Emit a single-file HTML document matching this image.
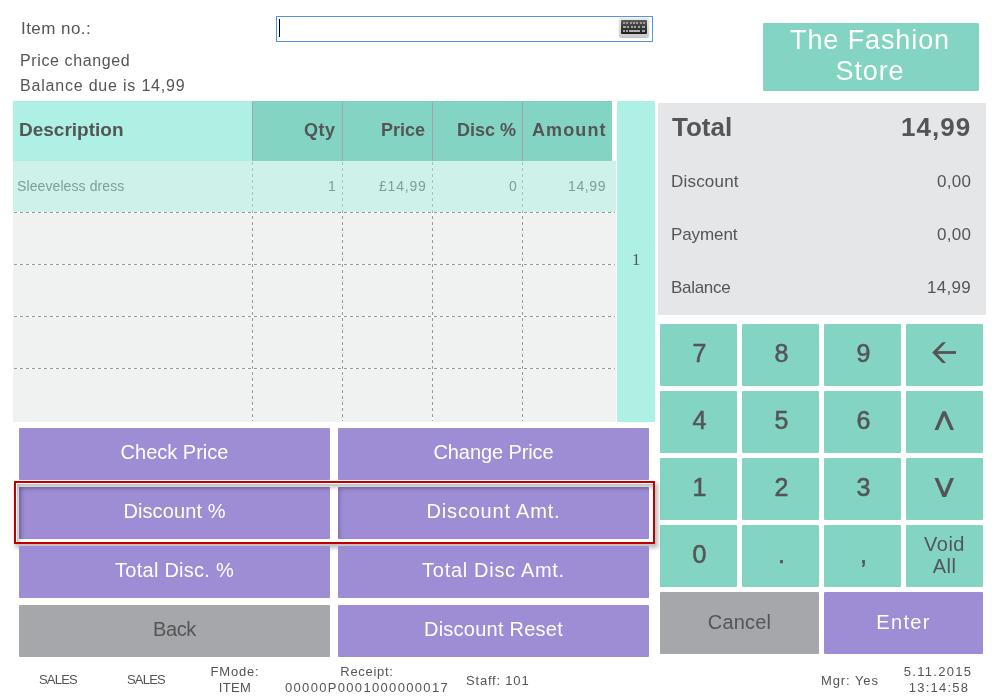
<!DOCTYPE html>
<html><head><meta charset="utf-8"><style>
html,body{margin:0;padding:0;background:#fff;}
body{width:1001px;height:699px;position:relative;overflow:hidden;font-family:"Liberation Sans",sans-serif;}
.t{position:absolute;white-space:nowrap;will-change:transform;}
.r{position:absolute;}
</style></head><body>
<div class="t" style="left:21px;top:20.01px;font-size:17px;line-height:17px;color:#555557;font-weight:400;letter-spacing:0.45px;font-family:'Liberation Sans', sans-serif;">Item no.:</div>
<div class="r" style="left:276px;top:16px;width:377px;height:26px;background:#fff;border:1px solid #5096e0;box-sizing:border-box;"></div>
<div class="r" style="left:279px;top:19px;width:1px;height:18px;background:#000;"></div>
<div class="r" style="left:619px;top:18px;width:30px;height:20px;background:linear-gradient(#ece9e4,#d6d6d6 70%,#c4c4c4);border-radius:3px;box-shadow:0 0 1px rgba(0,0,0,.35);"></div>
<div class="r" style="left:621px;top:20px;width:26px;height:14px;background:linear-gradient(#5a5a5a,#1e1e1e);border-radius:1px;"></div>
<div class="r" style="left:623.0px;top:22px;width:2px;height:2px;background:#9c9c9c;"></div>
<div class="r" style="left:626.3px;top:22px;width:2px;height:2px;background:#9c9c9c;"></div>
<div class="r" style="left:629.6px;top:22px;width:2px;height:2px;background:#9c9c9c;"></div>
<div class="r" style="left:632.9px;top:22px;width:2px;height:2px;background:#9c9c9c;"></div>
<div class="r" style="left:636.2px;top:22px;width:2px;height:2px;background:#9c9c9c;"></div>
<div class="r" style="left:639.5px;top:22px;width:2px;height:2px;background:#9c9c9c;"></div>
<div class="r" style="left:642.8px;top:22px;width:2px;height:2px;background:#9c9c9c;"></div>
<div class="r" style="left:623px;top:26px;width:3px;height:2px;background:#a4a4a4;"></div>
<div class="r" style="left:626.8px;top:26px;width:2px;height:2px;background:#a4a4a4;"></div>
<div class="r" style="left:630.6px;top:26px;width:2px;height:2px;background:#a4a4a4;"></div>
<div class="r" style="left:634.4px;top:26px;width:2px;height:2px;background:#a4a4a4;"></div>
<div class="r" style="left:638.2px;top:26px;width:2px;height:2px;background:#a4a4a4;"></div>
<div class="r" style="left:642.0px;top:26px;width:3px;height:2px;background:#a4a4a4;"></div>
<div class="r" style="left:623px;top:30px;width:2px;height:2px;background:#a4a4a4;"></div>
<div class="r" style="left:626px;top:30px;width:2px;height:2px;background:#a4a4a4;"></div>
<div class="r" style="left:629px;top:30px;width:11px;height:2px;background:#b0b0b0;"></div>
<div class="r" style="left:642px;top:30px;width:3px;height:2px;background:#a4a4a4;"></div>
<div class="t" style="left:19.9px;top:53.06px;font-size:16px;line-height:16px;color:#555557;font-weight:400;letter-spacing:0.62px;font-family:'Liberation Sans', sans-serif;">Price changed</div>
<div class="t" style="left:19.9px;top:77.86px;font-size:16px;line-height:16px;color:#555557;font-weight:400;letter-spacing:0.8px;font-family:'Liberation Sans', sans-serif;">Balance due is 14,99</div>
<div class="r" style="left:763px;top:23px;width:216px;height:68px;background:#84d4c4;border-radius:1px;"></div>
<div class="t" style="left:762.0px;width:216px;text-align:center;top:26.54px;font-size:27px;line-height:27px;color:#fff;font-weight:400;letter-spacing:0.9px;font-family:'Liberation Sans', sans-serif;">The Fashion</div>
<div class="t" style="left:762.0px;width:216px;text-align:center;top:57.64px;font-size:27px;line-height:27px;color:#fff;font-weight:400;letter-spacing:0.9px;font-family:'Liberation Sans', sans-serif;">Store</div>
<div class="r" style="left:13px;top:101px;width:239px;height:60px;background:#aef0e3;"></div>
<div class="r" style="left:252px;top:101px;width:360px;height:60px;background:#84d4c4;"></div>
<div class="r" style="left:13px;top:101px;width:239px;height:1px;background:#a4ebde;"></div>
<div class="r" style="left:253px;top:101px;width:359px;height:1px;background:#7bcfbf;"></div>
<div class="r" style="left:252px;top:102px;width:1px;height:59px;background:#a6a4a8;"></div>
<div class="r" style="left:342px;top:102px;width:1px;height:59px;background:#a6a4a8;"></div>
<div class="r" style="left:432px;top:102px;width:1px;height:59px;background:#a6a4a8;"></div>
<div class="r" style="left:522px;top:102px;width:1px;height:59px;background:#a6a4a8;"></div>
<div class="t" style="left:19px;top:119.92px;font-size:19px;line-height:19px;color:#555557;font-weight:700;letter-spacing:0px;font-family:'Liberation Sans', sans-serif;">Description</div>
<div class="t" style="right:665px;top:120.76px;font-size:18px;line-height:18px;color:#555557;font-weight:700;letter-spacing:0.5px;font-family:'Liberation Sans', sans-serif;">Qty</div>
<div class="t" style="right:575.5px;top:120.76px;font-size:18px;line-height:18px;color:#555557;font-weight:700;letter-spacing:0px;font-family:'Liberation Sans', sans-serif;">Price</div>
<div class="t" style="right:484.5px;top:120.76px;font-size:18px;line-height:18px;color:#555557;font-weight:700;letter-spacing:0px;font-family:'Liberation Sans', sans-serif;">Disc %</div>
<div class="t" style="right:394px;top:120.76px;font-size:18px;line-height:18px;color:#555557;font-weight:700;letter-spacing:1.1px;font-family:'Liberation Sans', sans-serif;">Amount</div>
<div class="r" style="left:13px;top:161px;width:603px;height:261px;background:#fff;"></div>
<div class="r" style="left:13px;top:161px;width:603px;height:51px;background:#eff2f0;"></div>
<div class="r" style="left:13px;top:213px;width:603px;height:51px;background:#eff2f0;"></div>
<div class="r" style="left:13px;top:265px;width:603px;height:51px;background:#eff2f0;"></div>
<div class="r" style="left:13px;top:317px;width:603px;height:51px;background:#eff2f0;"></div>
<div class="r" style="left:13px;top:369px;width:603px;height:53px;background:#eff2f0;"></div>
<div class="r" style="left:14px;top:212px;width:601px;height:1px;background:repeating-linear-gradient(to right,#999 0 3px,transparent 3px 6px);"></div>
<div class="r" style="left:14px;top:264px;width:601px;height:1px;background:repeating-linear-gradient(to right,#999 0 3px,transparent 3px 6px);"></div>
<div class="r" style="left:14px;top:316px;width:601px;height:1px;background:repeating-linear-gradient(to right,#999 0 3px,transparent 3px 6px);"></div>
<div class="r" style="left:14px;top:368px;width:601px;height:1px;background:repeating-linear-gradient(to right,#999 0 3px,transparent 3px 6px);"></div>
<div class="r" style="left:252px;top:161px;width:1px;height:261px;background:#fff;"></div>
<div class="r" style="left:252px;top:162px;width:1px;height:259px;background:repeating-linear-gradient(to bottom,#999 0 3px,transparent 3px 6px);"></div>
<div class="r" style="left:342px;top:161px;width:1px;height:261px;background:#fff;"></div>
<div class="r" style="left:342px;top:162px;width:1px;height:259px;background:repeating-linear-gradient(to bottom,#999 0 3px,transparent 3px 6px);"></div>
<div class="r" style="left:432px;top:161px;width:1px;height:261px;background:#fff;"></div>
<div class="r" style="left:432px;top:162px;width:1px;height:259px;background:repeating-linear-gradient(to bottom,#999 0 3px,transparent 3px 6px);"></div>
<div class="r" style="left:522px;top:161px;width:1px;height:261px;background:#fff;"></div>
<div class="r" style="left:522px;top:162px;width:1px;height:259px;background:repeating-linear-gradient(to bottom,#999 0 3px,transparent 3px 6px);"></div>
<div class="r" style="left:13px;top:161px;width:603px;height:51px;background:rgba(174,240,227,0.5);"></div>
<div class="t" style="left:17.0px;top:179.35px;font-size:14px;line-height:14px;color:#7d9f97;font-weight:400;letter-spacing:0.1px;font-family:'Liberation Sans', sans-serif;">Sleeveless dress</div>
<div class="t" style="right:665px;top:179.35px;font-size:14px;line-height:14px;color:#7d9f97;font-weight:400;letter-spacing:0px;font-family:'Liberation Sans', sans-serif;">1</div>
<div class="t" style="right:574px;top:179.35px;font-size:14px;line-height:14px;color:#7d9f97;font-weight:400;letter-spacing:0.8px;font-family:'Liberation Sans', sans-serif;">£14,99</div>
<div class="t" style="right:484.5px;top:179.35px;font-size:14px;line-height:14px;color:#7d9f97;font-weight:400;letter-spacing:0px;font-family:'Liberation Sans', sans-serif;">0</div>
<div class="t" style="right:394.5px;top:179.35px;font-size:14px;line-height:14px;color:#7d9f97;font-weight:400;letter-spacing:0.6px;font-family:'Liberation Sans', sans-serif;">14,99</div>
<div class="r" style="left:617px;top:101px;width:38px;height:321px;background:#aef0e3;border-radius:1px;"></div>
<div class="t" style="left:617.0px;width:38px;text-align:center;top:251.93px;font-size:16.5px;line-height:16.5px;color:#555557;font-weight:400;letter-spacing:0px;font-family:'Liberation Serif', serif;">1</div>
<div class="r" style="left:658px;top:103px;width:328px;height:212px;background:#e5e6e8;"></div>
<div class="t" style="left:672px;top:113.99px;font-size:26px;line-height:26px;color:#555557;font-weight:700;letter-spacing:0px;font-family:'Liberation Sans', sans-serif;">Total</div>
<div class="t" style="right:29.5px;top:113.99px;font-size:26px;line-height:26px;color:#555557;font-weight:700;letter-spacing:1.05px;font-family:'Liberation Sans', sans-serif;">14,99</div>
<div class="t" style="left:671.2px;top:173.11px;font-size:17px;line-height:17px;color:#555557;font-weight:400;letter-spacing:0.2px;font-family:'Liberation Sans', sans-serif;">Discount</div>
<div class="t" style="right:29.5px;top:173.11px;font-size:17px;line-height:17px;color:#555557;font-weight:400;letter-spacing:0.3px;font-family:'Liberation Sans', sans-serif;">0,00</div>
<div class="t" style="left:671.2px;top:225.81px;font-size:17px;line-height:17px;color:#555557;font-weight:400;letter-spacing:-0.1px;font-family:'Liberation Sans', sans-serif;">Payment</div>
<div class="t" style="right:29.5px;top:225.81px;font-size:17px;line-height:17px;color:#555557;font-weight:400;letter-spacing:0.3px;font-family:'Liberation Sans', sans-serif;">0,00</div>
<div class="t" style="left:671.2px;top:279.11px;font-size:17px;line-height:17px;color:#555557;font-weight:400;letter-spacing:-0.3px;font-family:'Liberation Sans', sans-serif;">Balance</div>
<div class="t" style="right:29.5px;top:279.11px;font-size:17px;line-height:17px;color:#555557;font-weight:400;letter-spacing:0.3px;font-family:'Liberation Sans', sans-serif;">14,99</div>
<div class="r" style="left:660px;top:324px;width:77px;height:62px;background:#84d4c4;border-radius:1px;"></div>
<div class="t" style="left:660.7px;width:77px;text-align:center;top:340.84px;font-size:25px;line-height:25px;color:#555557;font-weight:400;letter-spacing:0px;font-family:'Liberation Sans', sans-serif;-webkit-text-stroke:0.55px #555557;">7</div>
<div class="r" style="left:742px;top:324px;width:77px;height:62px;background:#84d4c4;border-radius:1px;"></div>
<div class="t" style="left:742.7px;width:77px;text-align:center;top:340.84px;font-size:25px;line-height:25px;color:#555557;font-weight:400;letter-spacing:0px;font-family:'Liberation Sans', sans-serif;-webkit-text-stroke:0.55px #555557;">8</div>
<div class="r" style="left:824px;top:324px;width:77px;height:62px;background:#84d4c4;border-radius:1px;"></div>
<div class="t" style="left:824.7px;width:77px;text-align:center;top:340.84px;font-size:25px;line-height:25px;color:#555557;font-weight:400;letter-spacing:0px;font-family:'Liberation Sans', sans-serif;-webkit-text-stroke:0.55px #555557;">9</div>
<div class="r" style="left:906px;top:324px;width:77px;height:62px;background:#84d4c4;border-radius:1px;"></div>
<svg class="r" style="left:0;top:0" width="1001" height="699"><path d="M946 342.2L942.4 342.2L932.2 352.5L942.4 362.9L946 362.9L936.3 352.5Z" fill="#555557"/><rect x="935" y="351.1" width="21" height="2.8" fill="#555557"/></svg>
<div class="r" style="left:660px;top:391px;width:77px;height:62px;background:#84d4c4;border-radius:1px;"></div>
<div class="t" style="left:660.7px;width:77px;text-align:center;top:407.84px;font-size:25px;line-height:25px;color:#555557;font-weight:400;letter-spacing:0px;font-family:'Liberation Sans', sans-serif;-webkit-text-stroke:0.55px #555557;">4</div>
<div class="r" style="left:742px;top:391px;width:77px;height:62px;background:#84d4c4;border-radius:1px;"></div>
<div class="t" style="left:742.7px;width:77px;text-align:center;top:407.84px;font-size:25px;line-height:25px;color:#555557;font-weight:400;letter-spacing:0px;font-family:'Liberation Sans', sans-serif;-webkit-text-stroke:0.55px #555557;">5</div>
<div class="r" style="left:824px;top:391px;width:77px;height:62px;background:#84d4c4;border-radius:1px;"></div>
<div class="t" style="left:824.7px;width:77px;text-align:center;top:407.84px;font-size:25px;line-height:25px;color:#555557;font-weight:400;letter-spacing:0px;font-family:'Liberation Sans', sans-serif;-webkit-text-stroke:0.55px #555557;">6</div>
<div class="r" style="left:906px;top:391px;width:77px;height:62px;background:#84d4c4;border-radius:1px;"></div>
<svg class="r" style="left:0;top:0" width="1001" height="699"><path d="M934.5 430L942.5 411.3L945.8 411.3L954 430L950.4 430L944.2 415.9L938.2 430Z" fill="#555557"/></svg>
<div class="r" style="left:660px;top:458px;width:77px;height:62px;background:#84d4c4;border-radius:1px;"></div>
<div class="t" style="left:660.7px;width:77px;text-align:center;top:474.84px;font-size:25px;line-height:25px;color:#555557;font-weight:400;letter-spacing:0px;font-family:'Liberation Sans', sans-serif;-webkit-text-stroke:0.55px #555557;">1</div>
<div class="r" style="left:742px;top:458px;width:77px;height:62px;background:#84d4c4;border-radius:1px;"></div>
<div class="t" style="left:742.7px;width:77px;text-align:center;top:474.84px;font-size:25px;line-height:25px;color:#555557;font-weight:400;letter-spacing:0px;font-family:'Liberation Sans', sans-serif;-webkit-text-stroke:0.55px #555557;">2</div>
<div class="r" style="left:824px;top:458px;width:77px;height:62px;background:#84d4c4;border-radius:1px;"></div>
<div class="t" style="left:824.7px;width:77px;text-align:center;top:474.84px;font-size:25px;line-height:25px;color:#555557;font-weight:400;letter-spacing:0px;font-family:'Liberation Sans', sans-serif;-webkit-text-stroke:0.55px #555557;">3</div>
<div class="r" style="left:906px;top:458px;width:77px;height:62px;background:#84d4c4;border-radius:1px;"></div>
<svg class="r" style="left:0;top:0" width="1001" height="699"><path d="M934.5 478.1L938.2 478.1L944.3 492.3L950.4 478.1L954 478.1L946.1 496.9L942.5 496.9Z" fill="#555557"/></svg>
<div class="r" style="left:660px;top:525px;width:77px;height:62px;background:#84d4c4;border-radius:1px;"></div>
<div class="t" style="left:660.7px;width:77px;text-align:center;top:541.84px;font-size:25px;line-height:25px;color:#555557;font-weight:400;letter-spacing:0px;font-family:'Liberation Sans', sans-serif;-webkit-text-stroke:0.55px #555557;">0</div>
<div class="r" style="left:742px;top:525px;width:77px;height:62px;background:#84d4c4;border-radius:1px;"></div>
<div class="t" style="left:742.7px;width:77px;text-align:center;top:541.84px;font-size:25px;line-height:25px;color:#555557;font-weight:400;letter-spacing:0px;font-family:'Liberation Sans', sans-serif;-webkit-text-stroke:0.55px #555557;">.</div>
<div class="r" style="left:824px;top:525px;width:77px;height:62px;background:#84d4c4;border-radius:1px;"></div>
<div class="t" style="left:824.7px;width:77px;text-align:center;top:541.84px;font-size:25px;line-height:25px;color:#555557;font-weight:400;letter-spacing:0px;font-family:'Liberation Sans', sans-serif;-webkit-text-stroke:0.55px #555557;">,</div>
<div class="r" style="left:906px;top:525px;width:77px;height:62px;background:#84d4c4;border-radius:1px;"></div>
<div class="t" style="left:906.0px;width:77px;text-align:center;top:533.67px;font-size:20px;line-height:20px;color:#555557;font-weight:400;letter-spacing:0.5px;font-family:'Liberation Sans', sans-serif;">Void</div>
<div class="t" style="left:906.0px;width:77px;text-align:center;top:555.57px;font-size:20px;line-height:20px;color:#555557;font-weight:400;letter-spacing:0.5px;font-family:'Liberation Sans', sans-serif;">All</div>
<div class="r" style="left:660px;top:592px;width:159px;height:62px;background:#a6a7ab;border-radius:1px;"></div>
<div class="t" style="left:660.0px;width:159px;text-align:center;top:612.07px;font-size:20px;line-height:20px;color:#555557;font-weight:400;letter-spacing:0.2px;font-family:'Liberation Sans', sans-serif;">Cancel</div>
<div class="r" style="left:824px;top:592px;width:159px;height:62px;background:#9e8dd4;border-radius:1px;"></div>
<div class="t" style="left:824.0px;width:159px;text-align:center;top:612.07px;font-size:20px;line-height:20px;color:#fff;font-weight:400;letter-spacing:1.35px;font-family:'Liberation Sans', sans-serif;">Enter</div>
<div class="r" style="left:14px;top:481px;width:641px;height:63px;background:#fff;box-shadow:2px 3px 4px 1px rgba(0,0,0,.26);"></div>
<div class="r" style="left:19px;top:428px;width:311px;height:52px;background:#9e8dd4;border-radius:1px;"></div>
<div class="t" style="left:19.0px;width:311px;text-align:center;top:442.07px;font-size:20px;line-height:20px;color:#fff;font-weight:400;letter-spacing:0px;font-family:'Liberation Sans', sans-serif;">Check Price</div>
<div class="r" style="left:338px;top:428px;width:311px;height:52px;background:#9e8dd4;border-radius:1px;"></div>
<div class="t" style="left:338.0px;width:311px;text-align:center;top:442.07px;font-size:20px;line-height:20px;color:#fff;font-weight:400;letter-spacing:-0.1px;font-family:'Liberation Sans', sans-serif;">Change Price</div>
<div class="r" style="left:19px;top:487px;width:311px;height:52px;background:#9e8dd4;border-radius:1px;box-shadow:inset 3px 2px 4px -1px rgba(40,20,90,.25);"></div>
<div class="t" style="left:19.0px;width:311px;text-align:center;top:501.07px;font-size:20px;line-height:20px;color:#fff;font-weight:400;letter-spacing:0.1px;font-family:'Liberation Sans', sans-serif;">Discount %</div>
<div class="r" style="left:338px;top:487px;width:311px;height:52px;background:#9e8dd4;border-radius:1px;box-shadow:inset 3px 2px 4px -1px rgba(40,20,90,.25);"></div>
<div class="t" style="left:338.0px;width:311px;text-align:center;top:501.07px;font-size:20px;line-height:20px;color:#fff;font-weight:400;letter-spacing:0.8px;font-family:'Liberation Sans', sans-serif;">Discount Amt.</div>
<div class="r" style="left:19px;top:546px;width:311px;height:52px;background:#9e8dd4;border-radius:1px;"></div>
<div class="t" style="left:19.0px;width:311px;text-align:center;top:560.07px;font-size:20px;line-height:20px;color:#fff;font-weight:400;letter-spacing:0.25px;font-family:'Liberation Sans', sans-serif;">Total Disc. %</div>
<div class="r" style="left:338px;top:546px;width:311px;height:52px;background:#9e8dd4;border-radius:1px;"></div>
<div class="t" style="left:338.0px;width:311px;text-align:center;top:560.07px;font-size:20px;line-height:20px;color:#fff;font-weight:400;letter-spacing:0.7px;font-family:'Liberation Sans', sans-serif;">Total Disc Amt.</div>
<div class="r" style="left:19px;top:605px;width:311px;height:52px;background:#a6a7ab;border-radius:1px;"></div>
<div class="t" style="left:19.0px;width:311px;text-align:center;top:619.07px;font-size:20px;line-height:20px;color:#555557;font-weight:400;letter-spacing:-0.4px;font-family:'Liberation Sans', sans-serif;">Back</div>
<div class="r" style="left:338px;top:605px;width:311px;height:52px;background:#9e8dd4;border-radius:1px;"></div>
<div class="t" style="left:338.0px;width:311px;text-align:center;top:619.07px;font-size:20px;line-height:20px;color:#fff;font-weight:400;letter-spacing:0.25px;font-family:'Liberation Sans', sans-serif;">Discount Reset</div>
<div class="r" style="left:17px;top:484px;width:636px;height:58px;background:transparent;box-shadow:inset 3px 4px 5px -1px rgba(0,0,0,.28);"></div>
<div class="r" style="left:14px;top:481px;width:641px;height:63px;background:transparent;border:2px solid #c00000;box-sizing:border-box;"></div>
<div class="t" style="left:38.9px;top:673.40px;font-size:13px;line-height:13px;color:#555557;font-weight:400;letter-spacing:-0.8px;font-family:'Liberation Sans', sans-serif;">SALES</div>
<div class="t" style="left:126.9px;top:673.40px;font-size:13px;line-height:13px;color:#555557;font-weight:400;letter-spacing:-0.8px;font-family:'Liberation Sans', sans-serif;">SALES</div>
<div class="t" style="left:194.5px;width:80px;text-align:center;top:665.40px;font-size:13px;line-height:13px;color:#555557;font-weight:400;letter-spacing:0.8px;font-family:'Liberation Sans', sans-serif;">FMode:</div>
<div class="t" style="left:194.5px;width:80px;text-align:center;top:680.70px;font-size:13px;line-height:13px;color:#555557;font-weight:400;letter-spacing:0.3px;font-family:'Liberation Sans', sans-serif;">ITEM</div>
<div class="t" style="left:266.5px;width:200px;text-align:center;top:665.40px;font-size:13px;line-height:13px;color:#555557;font-weight:400;letter-spacing:0.7px;font-family:'Liberation Sans', sans-serif;">Receipt:</div>
<div class="t" style="left:266.5px;width:200px;text-align:center;top:680.70px;font-size:13px;line-height:13px;color:#555557;font-weight:400;letter-spacing:1.33px;font-family:'Liberation Sans', sans-serif;">00000P0001000000017</div>
<div class="t" style="left:466px;top:673.90px;font-size:13px;line-height:13px;color:#555557;font-weight:400;letter-spacing:0.8px;font-family:'Liberation Sans', sans-serif;">Staff: 101</div>
<div class="t" style="left:821.0px;top:673.70px;font-size:13px;line-height:13px;color:#555557;font-weight:400;letter-spacing:0.9px;font-family:'Liberation Sans', sans-serif;">Mgr: Yes</div>
<div class="t" style="left:898.3px;width:80px;text-align:center;top:665.20px;font-size:13px;line-height:13px;color:#555557;font-weight:400;letter-spacing:1.3px;font-family:'Liberation Sans', sans-serif;">5.11.2015</div>
<div class="t" style="left:898.6px;width:80px;text-align:center;top:680.80px;font-size:13px;line-height:13px;color:#555557;font-weight:400;letter-spacing:1.25px;font-family:'Liberation Sans', sans-serif;">13:14:58</div>
</body></html>
